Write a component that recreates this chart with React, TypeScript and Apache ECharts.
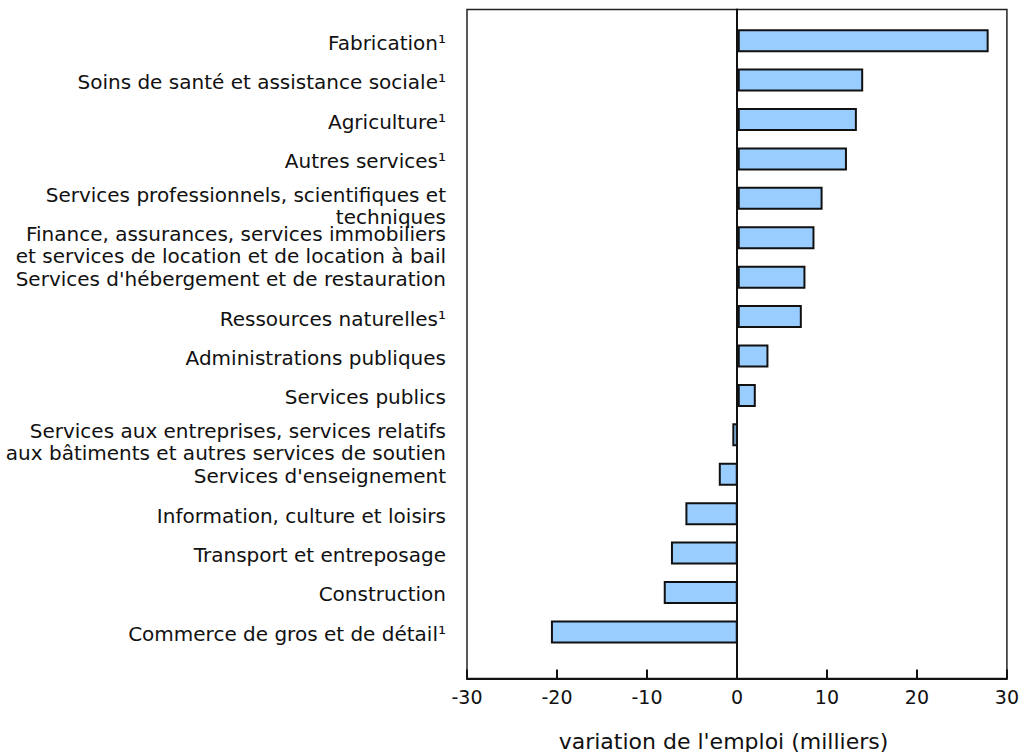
import React, { useEffect, useRef } from "react";
import * as echarts from "echarts";

const categories: string[] = [
  "Fabrication¹",
  "Soins de santé et assistance sociale¹",
  "Agriculture¹",
  "Autres services¹",
  "Services professionnels, scientifiques et\ntechniques",
  "Finance, assurances, services immobiliers\net services de location et de location à bail",
  "Services d'hébergement et de restauration",
  "Ressources naturelles¹",
  "Administrations publiques",
  "Services publics",
  "Services aux entreprises, services relatifs\naux bâtiments et autres services de soutien",
  "Services d'enseignement",
  "Information, culture et loisirs",
  "Transport et entreposage",
  "Construction",
  "Commerce de gros et de détail¹",
];

const values: number[] = [
  27.8, 13.9, 13.2, 12.1, 9.4, 8.5, 7.5, 7.1, 3.4, 2.0, -0.6, -2.1, -5.8, -7.4, -8.2, -20.7,
];

const xMin = -30;
const xMax = 30;
const xInterval = 10;
const xAxisTitle = "variation de l'emploi (milliers)";

const FONT = "DejaVu Sans";

export default function App() {
  const ref = useRef<HTMLDivElement>(null);
  useEffect(() => {
    const chart = echarts.init(ref.current!, null, { renderer: "svg" });
    chart.setOption({
      animation: false,
      backgroundColor: "#fff",
      grid: [
        {
          left: 467,
          right: 13.5,
          top: 9.5,
          bottom: 73.5,
          show: true,
          borderColor: "#222",
          borderWidth: 1.5,
          backgroundColor: "transparent",
        },
        { left: 467, right: 13.5, top: 21, bottom: 100.4 },
      ],
      xAxis: [
        {
          gridIndex: 0,
          type: "value",
          min: xMin,
          max: xMax,
          interval: xInterval,
          axisLine: { show: true, lineStyle: { color: "#111", width: 2 } },
          axisTick: { show: true, inside: true, length: 9, lineStyle: { color: "#111", width: 2 } },
          axisLabel: { color: "#111", fontFamily: FONT, fontSize: 19, margin: 9 },
          splitLine: { show: false },
        },
        {
          gridIndex: 1,
          type: "value",
          min: xMin,
          max: xMax,
          interval: xInterval,
          show: false,
        },
      ],
      yAxis: [
        {
          gridIndex: 0,
          type: "value",
          min: 0,
          max: 1,
          axisLine: { show: true, onZero: true, lineStyle: { color: "#111", width: 2 } },
          axisTick: { show: false },
          axisLabel: { show: false },
          splitLine: { show: false },
        },
        {
          gridIndex: 1,
          type: "category",
          inverse: true,
          data: categories,
          axisLine: { show: false },
          axisTick: { show: false },
          axisLabel: {
            color: "#111",
            fontFamily: FONT,
            fontSize: 20,
            margin: 21,
            interval: 0,
            lineHeight: 22,
            padding: [4, 0, 0, 0],
            formatter: (v: string) => {
              if (v.includes("\n")) {
                const [a, b] = v.split("\n");
                return `{s| }\n{a|${a}}\n{a|${b}}`;
              }
              return v;
            },
            rich: {
              s: { fontSize: 6, lineHeight: 11, fontFamily: FONT },
              a: { fontSize: 20, lineHeight: 22, fontFamily: FONT, color: "#111" },
            },
          },
          splitLine: { show: false },
        },
      ],
      series: [
        {
          type: "bar",
          xAxisIndex: 1,
          yAxisIndex: 1,
          data: values,
          barWidth: 23,
          itemStyle: { color: "#99ccff", borderColor: "#111", borderWidth: 2 },
        },
      ],
      graphic: [
        {
          type: "text",
          x: 723.5,
          y: 741,
          style: {
            text: xAxisTitle,
            fontFamily: FONT,
            fontSize: 22,
            fill: "#111",
            align: "center",
            verticalAlign: "middle",
          },
        },
      ],
    });
    return () => chart.dispose();
  }, []);
  return (
    <div
      ref={ref}
      style={{ position: "fixed", left: 0, top: 0, width: 1022, height: 752 }}
    />
  );
}
